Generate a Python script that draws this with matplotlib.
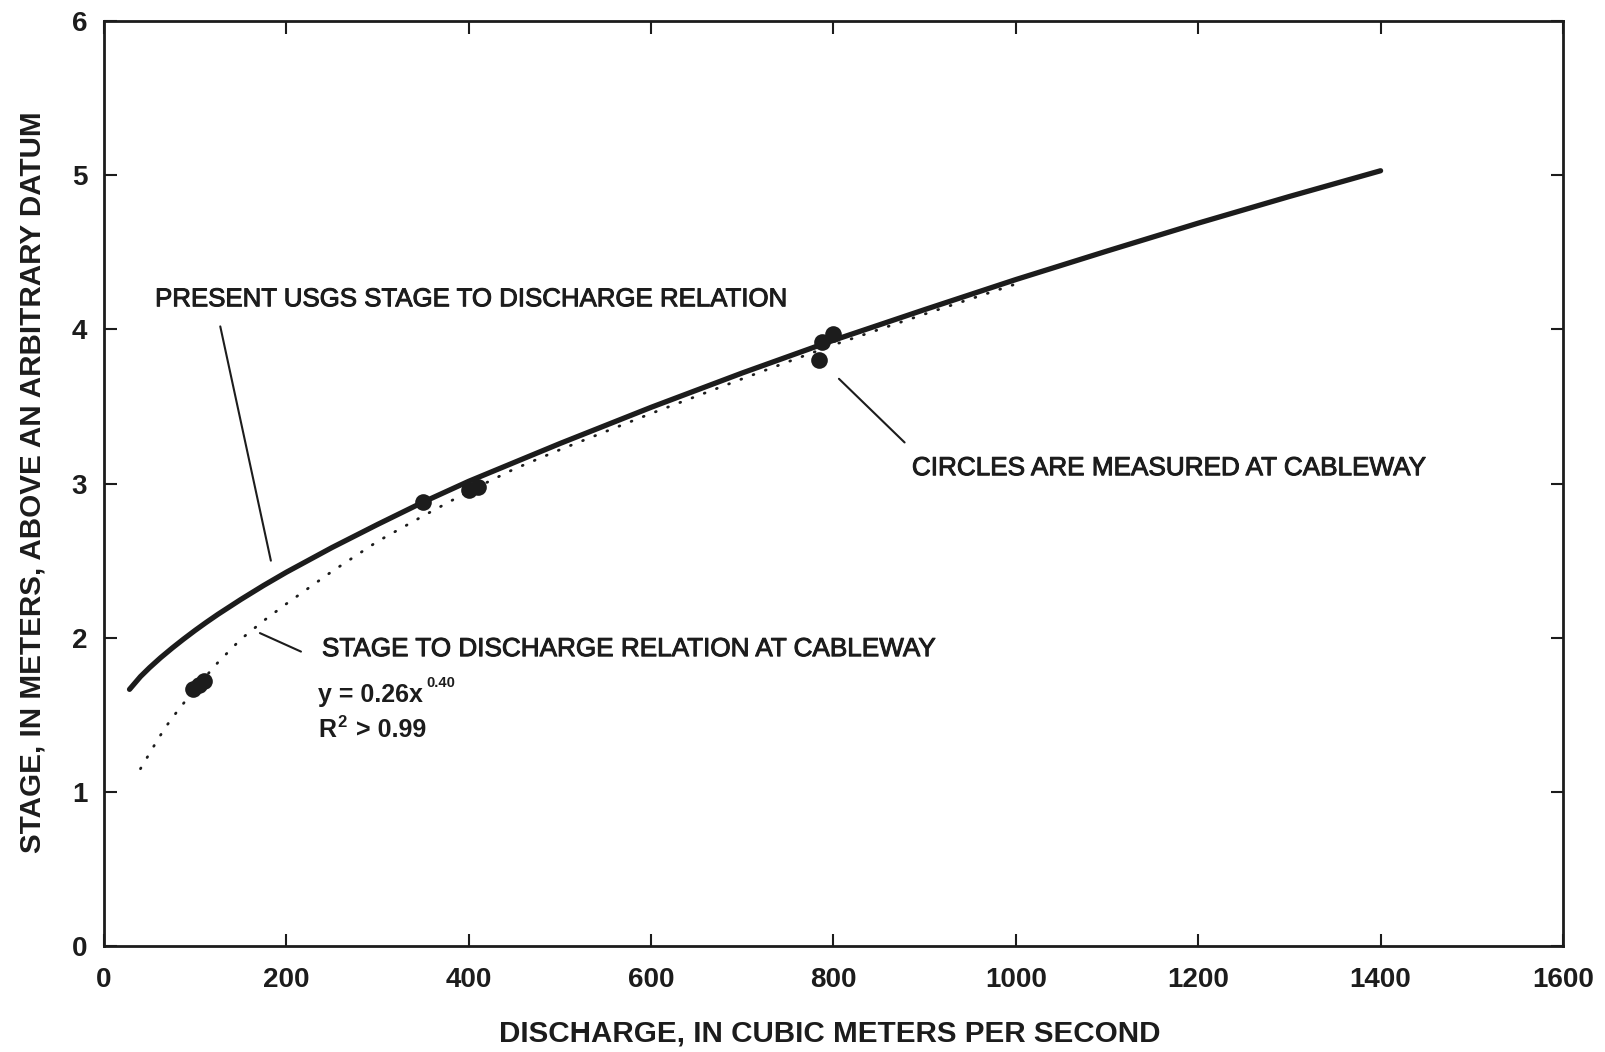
import matplotlib
matplotlib.use('Agg')
import matplotlib.pyplot as plt
import matplotlib.patheffects as pe

plt.rcParams['font.family'] = ['Liberation Sans', 'DejaVu Sans']

ink = '#1c1c1c'

# present USGS rating: discharge (m3/s) and stage (m)
usgs_q = [28, 40, 50, 62, 75, 87, 100, 112, 125, 150, 175, 200, 250, 300, 350, 400,
          500, 600, 700, 800, 900, 1000, 1100, 1200, 1300, 1400]
usgs_stage = [1.665, 1.748, 1.806, 1.870, 1.934, 1.99, 2.048, 2.099, 2.152, 2.248,
              2.339, 2.425, 2.585, 2.735, 2.88, 3.015, 3.26, 3.495, 3.718, 3.93,
              4.129, 4.324, 4.509, 4.69, 4.863, 5.03]

# rating fitted at the cableway
cableway_q = [40, 50, 60, 70, 80, 90, 100, 125, 150, 175, 200, 250, 300, 350, 400,
              450, 500, 600, 700, 800, 900, 1000]
cableway_stage = [1.15, 1.25, 1.35, 1.44, 1.52, 1.595, 1.67, 1.84, 1.99, 2.11, 2.22,
                  2.43, 2.625, 2.79, 2.95, 3.095, 3.22, 3.455, 3.68, 3.90, 4.10, 4.295]

# measurements at the cableway
meas_q = [98, 104, 110, 350, 400, 410, 784, 787, 800]
meas_stage = [1.67, 1.69, 1.72, 2.88, 2.96, 2.98, 3.80, 3.92, 3.97]

x_ticks = [0, 200, 400, 600, 800, 1000, 1200, 1400, 1600]
y_ticks = [0, 1, 2, 3, 4, 5, 6]

fig = plt.figure(figsize=(16.05, 10.52), dpi=100)
ax = fig.add_axes([0.0648, 0.1008, 0.909, 0.879])

ax.plot(cableway_q, cableway_stage, color=ink, lw=2.0, linestyle=(0, (0.3, 4.4)),
        dash_capstyle='round', zorder=2)
ax.plot(usgs_q, usgs_stage, color=ink, lw=3.8, solid_capstyle='round',
        solid_joinstyle='round', zorder=3)
ax.plot(meas_q, meas_stage, 'o', ms=12, color=ink, mew=0, zorder=4)

ax.set_xlim(0, 1600)
ax.set_ylim(0, 6)
ax.set_xticks(x_ticks)
ax.set_yticks(y_ticks)
ax.tick_params(direction='in', length=9, width=1.5, top=True, right=True,
               labelsize=20, pad=12, colors=ink)
ax.tick_params(axis='x', pad=15)
for lab in ax.get_xticklabels() + ax.get_yticklabels():
    lab.set_fontweight('bold')
for sp in ax.spines.values():
    sp.set_linewidth(2)
    sp.set_color(ink)

ax.set_xlabel('DISCHARGE, IN CUBIC METERS PER SECOND', fontsize=21.3,
              fontweight='bold', color=ink)
ax.xaxis.set_label_coords(0.4976, -0.095)
ax.xaxis.label.set_va('center')
ax.set_ylabel('STAGE, IN METERS, ABOVE AN ARBITRARY DATUM', fontsize=21.3,
              fontweight='bold', color=ink)
ax.yaxis.set_label_coords(-0.0487, 0.501)
ax.yaxis.label.set_va('center')

# labels and leader lines
lead = dict(arrowstyle='-', lw=1.5, color=ink, shrinkA=0, shrinkB=0)
heavy = [pe.withStroke(linewidth=0.7, foreground=ink)]

ax.text(56, 4.196, 'PRESENT USGS STAGE TO DISCHARGE RELATION', fontsize=18.6,
        color=ink, va='center', ha='left', path_effects=heavy)
ax.annotate('', xy=(183, 2.50), xytext=(127.5, 4.02), arrowprops=lead)

ax.text(239, 1.926, 'STAGE TO DISCHARGE RELATION AT CABLEWAY', fontsize=18.8,
        color=ink, va='center', ha='left', path_effects=heavy)
ax.annotate('', xy=(171, 2.03), xytext=(216, 1.91), arrowprops=lead)

eq = ax.text(235, 1.63, 'y = 0.26x', fontsize=18, fontweight='bold', color=ink,
             va='center', ha='left')
ax.annotate('0.40', xy=(1, 1), xycoords=eq, xytext=(2, 5),
            textcoords='offset points', fontsize=10.5, fontweight='bold',
            color=ink, va='top', ha='left')
r2 = ax.text(235, 1.40, 'R', fontsize=18, fontweight='bold', color=ink,
             va='center', ha='left')
ax.annotate('2', xy=(1, 1), xycoords=r2, xytext=(1, 2),
            textcoords='offset points', fontsize=12, fontweight='bold',
            color=ink, va='top', ha='left')
ax.annotate(' > 0.99', xy=(1, 0.5), xycoords=r2, xytext=(9, 0),
            textcoords='offset points', fontsize=18, fontweight='bold',
            color=ink, va='center', ha='left')

ax.text(886, 3.10, 'CIRCLES ARE MEASURED AT CABLEWAY', fontsize=18.8,
        color=ink, va='center', ha='left', path_effects=heavy)
ax.annotate('', xy=(878, 3.267), xytext=(806, 3.68), arrowprops=lead)

fig.savefig('out.png', dpi=100, facecolor='white')
